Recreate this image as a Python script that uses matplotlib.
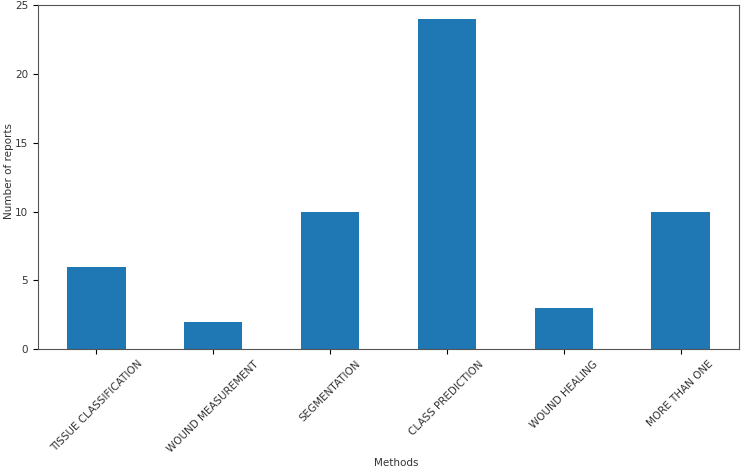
import matplotlib
matplotlib.use("Agg")
import matplotlib.pyplot as plt
import numpy as np

methods = ["TISSUE CLASSIFICATION", "WOUND MEASUREMENT", "SEGMENTATION",
           "CLASS PREDICTION", "WOUND HEALING", "MORE THAN ONE"]
reports = [6, 2, 10, 24, 3, 10]

fig = plt.figure(figsize=(7.51, 4.68), dpi=100)
ax = fig.add_axes([0.0506, 0.254, 0.9334, 0.735])
x = np.arange(len(methods))
ax.bar(x, reports, width=0.5, color="#1f77b4")
ax.set_xlim(-0.5, len(methods) - 0.5)
ax.set_ylim(0, 25)
ax.set_xticks(x)
ax.set_xticklabels(methods, rotation=45, ha="center", fontsize=7.5, color="#333333")
ax.set_yticks([0, 5, 10, 15, 20, 25])
ax.tick_params(axis="y", labelsize=7.5, labelcolor="#333333")
ax.set_xlabel("Methods", fontsize=7.5, color="#333333")
ax.xaxis.set_label_coords(0.527, 0.0, transform=fig.transFigure)
ax.xaxis.label.set_va("bottom")
ax.set_ylabel("Number of reports", fontsize=7.5, color="#333333")
ax.yaxis.set_label_coords(0.019, 0.635, transform=fig.transFigure)
for s in ax.spines.values():
    s.set_color("#555555")
fig.savefig("out.png", dpi=100)
